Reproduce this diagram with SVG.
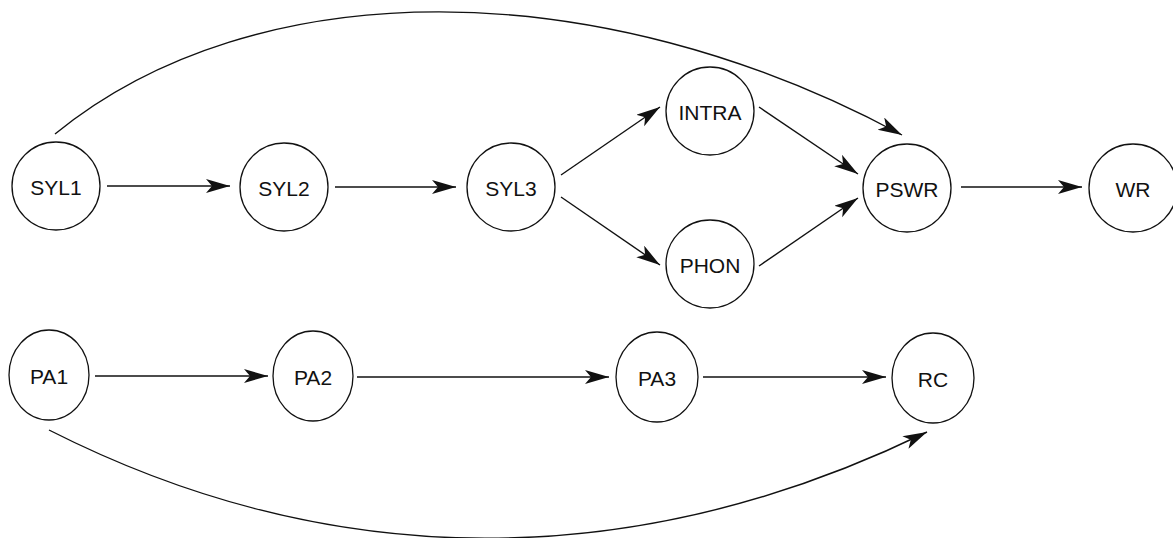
<svg xmlns="http://www.w3.org/2000/svg" width="1173" height="538" viewBox="0 0 1173 538">
<style>
.n{fill:#fff;stroke:#111;stroke-width:1.3}
.t{font-family:"Liberation Sans",Arial,sans-serif;font-size:21px;fill:#111;text-anchor:middle}
.c{fill:none;stroke:#111;stroke-width:1.4}
</style>
<defs>
<marker id="ah" markerUnits="userSpaceOnUse" markerWidth="26" markerHeight="16" refX="24" refY="7" orient="auto">
<path d="M0,0 L24,7 L0,14 L6,7 z" fill="#111"/>
</marker>
</defs>
<rect width="1173" height="538" fill="#fff"/>
<g id="connectors">
<path class="c" marker-end="url(#ah)" d="M107,186 L230,186"/>
<path class="c" marker-end="url(#ah)" d="M335,187 L456,187"/>
<path class="c" marker-end="url(#ah)" d="M561,175 L660,107"/>
<path class="c" marker-end="url(#ah)" d="M561,197 L660,265"/>
<path class="c" marker-end="url(#ah)" d="M759,107 L858,174"/>
<path class="c" marker-end="url(#ah)" d="M759,266 L858,198"/>
<path class="c" marker-end="url(#ah)" d="M961,187 L1082,187"/>
<path class="c" marker-end="url(#ah)" d="M55,134 C254,-29 598,-29 902,135"/>
<path class="c" marker-end="url(#ah)" d="M95,376 L268,376"/>
<path class="c" marker-end="url(#ah)" d="M357,377 L609,377"/>
<path class="c" marker-end="url(#ah)" d="M703,377 L886,377"/>
<path class="c" marker-end="url(#ah)" d="M49,430 C333,574 635,574 927,432"/>
</g>
<g id="SYL1"><circle class="n" cx="56" cy="186" r="44"/><text class="t" x="56" y="195">SYL1</text></g>
<g id="SYL2"><circle class="n" cx="284" cy="187" r="44"/><text class="t" x="284" y="196">SYL2</text></g>
<g id="SYL3"><circle class="n" cx="511" cy="187" r="44"/><text class="t" x="511" y="196">SYL3</text></g>
<g id="INTRA"><circle class="n" cx="710" cy="111" r="44"/><text class="t" x="710" y="120">INTRA</text></g>
<g id="PHON"><circle class="n" cx="710" cy="264" r="44"/><text class="t" x="710" y="273">PHON</text></g>
<g id="PSWR"><circle class="n" cx="907" cy="188" r="44"/><text class="t" x="907" y="197">PSWR</text></g>
<g id="WR"><circle class="n" cx="1133" cy="188" r="44"/><text class="t" x="1133" y="197">WR</text></g>
<g id="PA1"><ellipse class="n" cx="49" cy="375" rx="40" ry="45"/><text class="t" x="49" y="384">PA1</text></g>
<g id="PA2"><ellipse class="n" cx="313" cy="376" rx="40" ry="45"/><text class="t" x="313" y="385">PA2</text></g>
<g id="PA3"><ellipse class="n" cx="657" cy="377" rx="41" ry="45"/><text class="t" x="657" y="386">PA3</text></g>
<g id="RC"><ellipse class="n" cx="933" cy="378" rx="41" ry="45"/><text class="t" x="933" y="387">RC</text></g>
</svg>
